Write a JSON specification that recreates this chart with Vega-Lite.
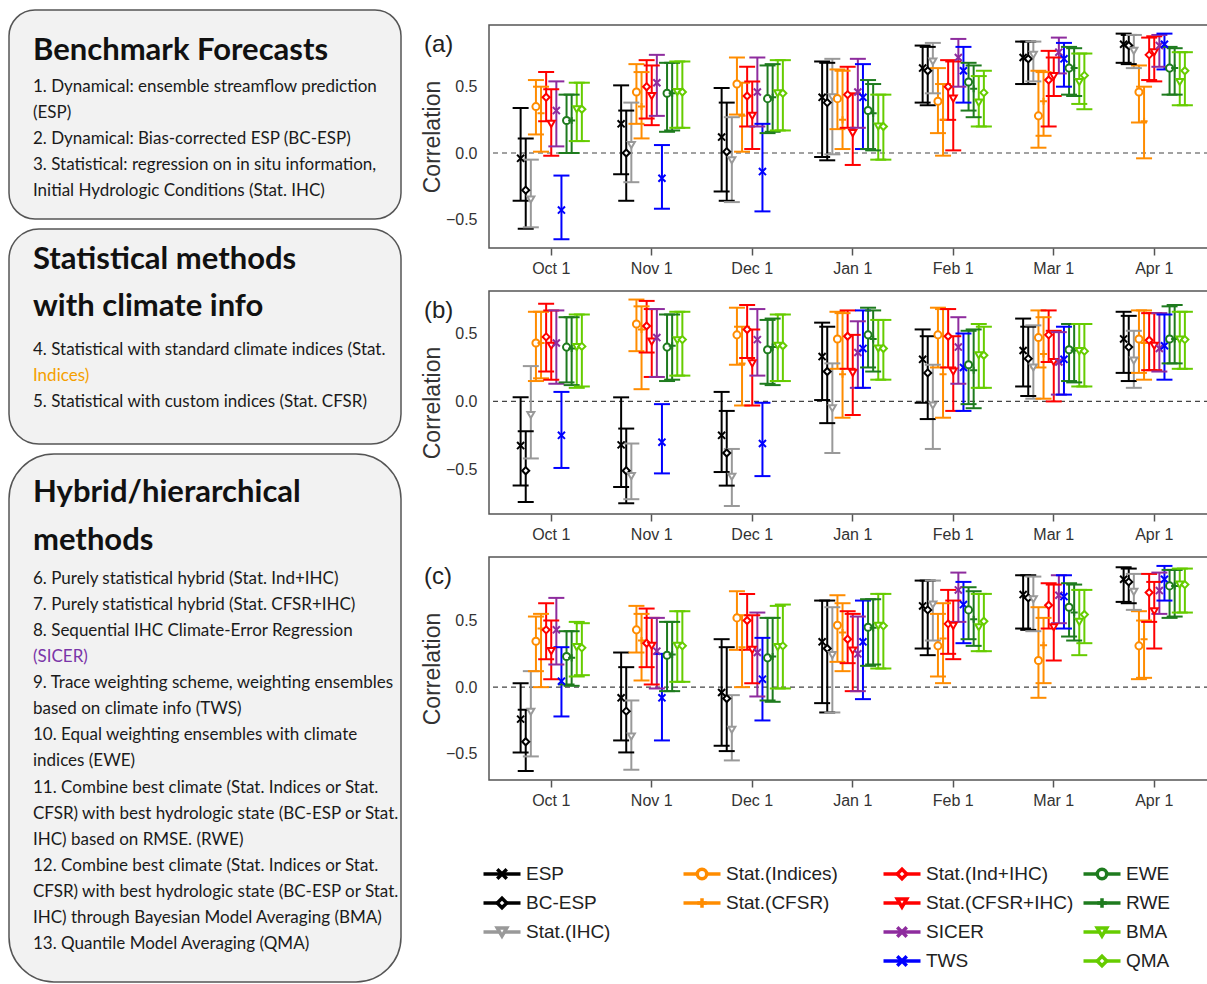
{
"$schema": "https://vega.github.io/schema/vega-lite/v6.json",
"padding": {"left": 8, "top": 9, "right": 0, "bottom": 0},
"background": "white",
"spacing": 18,
"resolve": {"scale": {"color": "independent"}},
"config": {
  "font": "Liberation Sans",
  "view": {"stroke": "#555", "strokeWidth": 1.5},
  "axis": {"grid": false, "domain": false, "labelFont": "Liberation Sans", "labelColor": "#333", "titleColor": "#333", "titleFont": "Liberation Sans", "titleFontWeight": "normal"},
  "axisX": {"labelFontSize": 16, "tickSize": 7, "tickColor": "#555", "tickWidth": 1.5, "labelPadding": 5, "labelAngle": 0},
  "axisY": {"labelFontSize": 16, "ticks": false, "tickSize": 0, "labelPadding": 12, "titleFontSize": 23, "titlePadding": 1},
  "title": {"font": "Liberation Sans", "fontWeight": "normal", "color": "#222"}
},
"datasets": {
"fc": [
{"panel":"a","month":"Oct 1","method":"ESP","r":-0.04,"lo":-0.36,"hi":0.34},
{"panel":"a","month":"Oct 1","method":"BC-ESP","r":-0.28,"lo":-0.57,"hi":0.11},
{"panel":"a","month":"Oct 1","method":"Stat.(IHC)","r":-0.35,"lo":-0.56,"hi":-0.05},
{"panel":"a","month":"Oct 1","method":"Stat.(Indices)","r":0.35,"lo":0.14,"hi":0.55},
{"panel":"a","month":"Oct 1","method":"Stat.(CFSR)","r":0.30,"lo":0.01,"hi":0.50},
{"panel":"a","month":"Oct 1","method":"Stat.(Ind+IHC)","r":0.42,"lo":0.24,"hi":0.61},
{"panel":"a","month":"Oct 1","method":"Stat.(CFSR+IHC)","r":0.22,"lo":-0.02,"hi":0.48},
{"panel":"a","month":"Oct 1","method":"SICER","r":0.32,"lo":0.05,"hi":0.54},
{"panel":"a","month":"Oct 1","method":"TWS","r":-0.43,"lo":-0.65,"hi":-0.17},
{"panel":"a","month":"Oct 1","method":"EWE","r":0.245,"lo":0.0,"hi":0.44},
{"panel":"a","month":"Oct 1","method":"RWE","r":0.245,"lo":0.0,"hi":0.44},
{"panel":"a","month":"Oct 1","method":"BMA","r":0.33,"lo":0.09,"hi":0.53},
{"panel":"a","month":"Oct 1","method":"QMA","r":0.33,"lo":0.09,"hi":0.53},
{"panel":"a","month":"Nov 1","method":"ESP","r":0.22,"lo":-0.16,"hi":0.51},
{"panel":"a","month":"Nov 1","method":"BC-ESP","r":0.0,"lo":-0.36,"hi":0.32},
{"panel":"a","month":"Nov 1","method":"Stat.(IHC)","r":0.06,"lo":-0.22,"hi":0.38},
{"panel":"a","month":"Nov 1","method":"Stat.(Indices)","r":0.46,"lo":0.22,"hi":0.67},
{"panel":"a","month":"Nov 1","method":"Stat.(CFSR)","r":0.35,"lo":0.11,"hi":0.61},
{"panel":"a","month":"Nov 1","method":"Stat.(Ind+IHC)","r":0.50,"lo":0.26,"hi":0.70},
{"panel":"a","month":"Nov 1","method":"Stat.(CFSR+IHC)","r":0.43,"lo":0.21,"hi":0.66},
{"panel":"a","month":"Nov 1","method":"SICER","r":0.53,"lo":0.28,"hi":0.74},
{"panel":"a","month":"Nov 1","method":"TWS","r":-0.19,"lo":-0.42,"hi":0.06},
{"panel":"a","month":"Nov 1","method":"EWE","r":0.45,"lo":0.16,"hi":0.68},
{"panel":"a","month":"Nov 1","method":"RWE","r":0.45,"lo":0.17,"hi":0.68},
{"panel":"a","month":"Nov 1","method":"BMA","r":0.46,"lo":0.19,"hi":0.69},
{"panel":"a","month":"Nov 1","method":"QMA","r":0.46,"lo":0.19,"hi":0.69},
{"panel":"a","month":"Dec 1","method":"ESP","r":0.12,"lo":-0.29,"hi":0.49},
{"panel":"a","month":"Dec 1","method":"BC-ESP","r":0.01,"lo":-0.36,"hi":0.38},
{"panel":"a","month":"Dec 1","method":"Stat.(IHC)","r":-0.055,"lo":-0.37,"hi":0.27},
{"panel":"a","month":"Dec 1","method":"Stat.(Indices)","r":0.52,"lo":0.29,"hi":0.72},
{"panel":"a","month":"Dec 1","method":"Stat.(CFSR)","r":0.28,"lo":0.01,"hi":0.53},
{"panel":"a","month":"Dec 1","method":"Stat.(Ind+IHC)","r":0.43,"lo":0.20,"hi":0.65},
{"panel":"a","month":"Dec 1","method":"Stat.(CFSR+IHC)","r":0.28,"lo":0.03,"hi":0.54},
{"panel":"a","month":"Dec 1","method":"SICER","r":0.46,"lo":0.20,"hi":0.72},
{"panel":"a","month":"Dec 1","method":"TWS","r":-0.14,"lo":-0.44,"hi":0.22},
{"panel":"a","month":"Dec 1","method":"EWE","r":0.41,"lo":0.15,"hi":0.66},
{"panel":"a","month":"Dec 1","method":"RWE","r":0.42,"lo":0.16,"hi":0.67},
{"panel":"a","month":"Dec 1","method":"BMA","r":0.45,"lo":0.17,"hi":0.70},
{"panel":"a","month":"Dec 1","method":"QMA","r":0.45,"lo":0.17,"hi":0.70},
{"panel":"a","month":"Jan 1","method":"ESP","r":0.42,"lo":-0.03,"hi":0.69},
{"panel":"a","month":"Jan 1","method":"BC-ESP","r":0.38,"lo":-0.055,"hi":0.68},
{"panel":"a","month":"Jan 1","method":"Stat.(IHC)","r":0.42,"lo":-0.01,"hi":0.71},
{"panel":"a","month":"Jan 1","method":"Stat.(Indices)","r":0.41,"lo":0.18,"hi":0.63},
{"panel":"a","month":"Jan 1","method":"Stat.(CFSR)","r":0.25,"lo":0.03,"hi":0.62},
{"panel":"a","month":"Jan 1","method":"Stat.(Ind+IHC)","r":0.44,"lo":0.19,"hi":0.65},
{"panel":"a","month":"Jan 1","method":"Stat.(CFSR+IHC)","r":0.15,"lo":-0.09,"hi":0.45},
{"panel":"a","month":"Jan 1","method":"SICER","r":0.46,"lo":0.19,"hi":0.71},
{"panel":"a","month":"Jan 1","method":"TWS","r":0.42,"lo":0.03,"hi":0.67},
{"panel":"a","month":"Jan 1","method":"EWE","r":0.32,"lo":0.03,"hi":0.55},
{"panel":"a","month":"Jan 1","method":"RWE","r":0.30,"lo":0.02,"hi":0.52},
{"panel":"a","month":"Jan 1","method":"BMA","r":0.20,"lo":-0.05,"hi":0.44},
{"panel":"a","month":"Jan 1","method":"QMA","r":0.20,"lo":-0.05,"hi":0.44},
{"panel":"a","month":"Feb 1","method":"ESP","r":0.64,"lo":0.38,"hi":0.81},
{"panel":"a","month":"Feb 1","method":"BC-ESP","r":0.62,"lo":0.36,"hi":0.80},
{"panel":"a","month":"Feb 1","method":"Stat.(IHC)","r":0.69,"lo":0.45,"hi":0.83},
{"panel":"a","month":"Feb 1","method":"Stat.(Indices)","r":0.39,"lo":0.15,"hi":0.64},
{"panel":"a","month":"Feb 1","method":"Stat.(CFSR)","r":0.25,"lo":-0.02,"hi":0.52},
{"panel":"a","month":"Feb 1","method":"Stat.(Ind+IHC)","r":0.50,"lo":0.25,"hi":0.70},
{"panel":"a","month":"Feb 1","method":"Stat.(CFSR+IHC)","r":0.41,"lo":0.02,"hi":0.69},
{"panel":"a","month":"Feb 1","method":"SICER","r":0.72,"lo":0.50,"hi":0.86},
{"panel":"a","month":"Feb 1","method":"TWS","r":0.62,"lo":0.38,"hi":0.80},
{"panel":"a","month":"Feb 1","method":"EWE","r":0.535,"lo":0.32,"hi":0.68},
{"panel":"a","month":"Feb 1","method":"RWE","r":0.485,"lo":0.27,"hi":0.66},
{"panel":"a","month":"Feb 1","method":"BMA","r":0.38,"lo":0.20,"hi":0.58},
{"panel":"a","month":"Feb 1","method":"QMA","r":0.455,"lo":0.20,"hi":0.62},
{"panel":"a","month":"Mar 1","method":"ESP","r":0.72,"lo":0.52,"hi":0.84},
{"panel":"a","month":"Mar 1","method":"BC-ESP","r":0.71,"lo":0.52,"hi":0.84},
{"panel":"a","month":"Mar 1","method":"Stat.(IHC)","r":0.74,"lo":0.54,"hi":0.84},
{"panel":"a","month":"Mar 1","method":"Stat.(Indices)","r":0.28,"lo":0.04,"hi":0.62},
{"panel":"a","month":"Mar 1","method":"Stat.(CFSR)","r":0.39,"lo":0.13,"hi":0.61},
{"panel":"a","month":"Mar 1","method":"Stat.(Ind+IHC)","r":0.55,"lo":0.20,"hi":0.77},
{"panel":"a","month":"Mar 1","method":"Stat.(CFSR+IHC)","r":0.58,"lo":0.43,"hi":0.72},
{"panel":"a","month":"Mar 1","method":"SICER","r":0.76,"lo":0.60,"hi":0.87},
{"panel":"a","month":"Mar 1","method":"TWS","r":0.71,"lo":0.50,"hi":0.83},
{"panel":"a","month":"Mar 1","method":"EWE","r":0.64,"lo":0.44,"hi":0.80},
{"panel":"a","month":"Mar 1","method":"RWE","r":0.64,"lo":0.43,"hi":0.79},
{"panel":"a","month":"Mar 1","method":"BMA","r":0.535,"lo":0.37,"hi":0.75},
{"panel":"a","month":"Mar 1","method":"QMA","r":0.585,"lo":0.33,"hi":0.75},
{"panel":"a","month":"Apr 1","method":"ESP","r":0.82,"lo":0.68,"hi":0.90},
{"panel":"a","month":"Apr 1","method":"BC-ESP","r":0.81,"lo":0.67,"hi":0.89},
{"panel":"a","month":"Apr 1","method":"Stat.(IHC)","r":0.77,"lo":0.64,"hi":0.89},
{"panel":"a","month":"Apr 1","method":"Stat.(Indices)","r":0.46,"lo":0.23,"hi":0.66},
{"panel":"a","month":"Apr 1","method":"Stat.(CFSR)","r":0.24,"lo":-0.04,"hi":0.50},
{"panel":"a","month":"Apr 1","method":"Stat.(Ind+IHC)","r":0.74,"lo":0.55,"hi":0.87},
{"panel":"a","month":"Apr 1","method":"Stat.(CFSR+IHC)","r":0.76,"lo":0.54,"hi":0.88},
{"panel":"a","month":"Apr 1","method":"SICER","r":0.81,"lo":0.65,"hi":0.89},
{"panel":"a","month":"Apr 1","method":"TWS","r":0.82,"lo":0.63,"hi":0.90},
{"panel":"a","month":"Apr 1","method":"EWE","r":0.64,"lo":0.44,"hi":0.80},
{"panel":"a","month":"Apr 1","method":"RWE","r":0.64,"lo":0.44,"hi":0.79},
{"panel":"a","month":"Apr 1","method":"BMA","r":0.535,"lo":0.36,"hi":0.76},
{"panel":"a","month":"Apr 1","method":"QMA","r":0.62,"lo":0.36,"hi":0.76},
{"panel":"b","month":"Oct 1","method":"ESP","r":-0.325,"lo":-0.62,"hi":0.03},
{"panel":"b","month":"Oct 1","method":"BC-ESP","r":-0.51,"lo":-0.74,"hi":-0.22},
{"panel":"b","month":"Oct 1","method":"Stat.(IHC)","r":-0.10,"lo":-0.42,"hi":0.26},
{"panel":"b","month":"Oct 1","method":"Stat.(Indices)","r":0.43,"lo":0.15,"hi":0.66},
{"panel":"b","month":"Oct 1","method":"Stat.(CFSR)","r":0.43,"lo":0.17,"hi":0.66},
{"panel":"b","month":"Oct 1","method":"Stat.(Ind+IHC)","r":0.475,"lo":0.22,"hi":0.72},
{"panel":"b","month":"Oct 1","method":"Stat.(CFSR+IHC)","r":0.41,"lo":0.16,"hi":0.67},
{"panel":"b","month":"Oct 1","method":"SICER","r":0.43,"lo":0.13,"hi":0.67},
{"panel":"b","month":"Oct 1","method":"TWS","r":-0.25,"lo":-0.49,"hi":0.07},
{"panel":"b","month":"Oct 1","method":"EWE","r":0.40,"lo":0.14,"hi":0.62},
{"panel":"b","month":"Oct 1","method":"RWE","r":0.39,"lo":0.12,"hi":0.62},
{"panel":"b","month":"Oct 1","method":"BMA","r":0.40,"lo":0.10,"hi":0.64},
{"panel":"b","month":"Oct 1","method":"QMA","r":0.405,"lo":0.11,"hi":0.64},
{"panel":"b","month":"Nov 1","method":"ESP","r":-0.32,"lo":-0.63,"hi":0.03},
{"panel":"b","month":"Nov 1","method":"BC-ESP","r":-0.51,"lo":-0.75,"hi":-0.20},
{"panel":"b","month":"Nov 1","method":"Stat.(IHC)","r":-0.55,"lo":-0.72,"hi":-0.31},
{"panel":"b","month":"Nov 1","method":"Stat.(Indices)","r":0.57,"lo":0.37,"hi":0.75},
{"panel":"b","month":"Nov 1","method":"Stat.(CFSR)","r":0.53,"lo":0.09,"hi":0.70},
{"panel":"b","month":"Nov 1","method":"Stat.(Ind+IHC)","r":0.555,"lo":0.36,"hi":0.74},
{"panel":"b","month":"Nov 1","method":"Stat.(CFSR+IHC)","r":0.44,"lo":0.18,"hi":0.68},
{"panel":"b","month":"Nov 1","method":"SICER","r":0.47,"lo":0.18,"hi":0.68},
{"panel":"b","month":"Nov 1","method":"TWS","r":-0.30,"lo":-0.53,"hi":-0.02},
{"panel":"b","month":"Nov 1","method":"EWE","r":0.40,"lo":0.15,"hi":0.64},
{"panel":"b","month":"Nov 1","method":"RWE","r":0.41,"lo":0.16,"hi":0.64},
{"panel":"b","month":"Nov 1","method":"BMA","r":0.45,"lo":0.19,"hi":0.66},
{"panel":"b","month":"Nov 1","method":"QMA","r":0.455,"lo":0.19,"hi":0.66},
{"panel":"b","month":"Dec 1","method":"ESP","r":-0.25,"lo":-0.52,"hi":0.07},
{"panel":"b","month":"Dec 1","method":"BC-ESP","r":-0.38,"lo":-0.62,"hi":-0.07},
{"panel":"b","month":"Dec 1","method":"Stat.(IHC)","r":-0.555,"lo":-0.77,"hi":-0.35},
{"panel":"b","month":"Dec 1","method":"Stat.(Indices)","r":0.49,"lo":0.27,"hi":0.69},
{"panel":"b","month":"Dec 1","method":"Stat.(CFSR)","r":0.28,"lo":-0.03,"hi":0.55},
{"panel":"b","month":"Dec 1","method":"Stat.(Ind+IHC)","r":0.53,"lo":0.32,"hi":0.71},
{"panel":"b","month":"Dec 1","method":"Stat.(CFSR+IHC)","r":0.28,"lo":-0.03,"hi":0.53},
{"panel":"b","month":"Dec 1","method":"SICER","r":0.455,"lo":0.19,"hi":0.68},
{"panel":"b","month":"Dec 1","method":"TWS","r":-0.31,"lo":-0.55,"hi":-0.01},
{"panel":"b","month":"Dec 1","method":"EWE","r":0.38,"lo":0.13,"hi":0.60},
{"panel":"b","month":"Dec 1","method":"RWE","r":0.40,"lo":0.12,"hi":0.61},
{"panel":"b","month":"Dec 1","method":"BMA","r":0.41,"lo":0.15,"hi":0.64},
{"panel":"b","month":"Dec 1","method":"QMA","r":0.41,"lo":0.15,"hi":0.64},
{"panel":"b","month":"Jan 1","method":"ESP","r":0.33,"lo":0.01,"hi":0.58},
{"panel":"b","month":"Jan 1","method":"BC-ESP","r":0.22,"lo":-0.16,"hi":0.55},
{"panel":"b","month":"Jan 1","method":"Stat.(IHC)","r":-0.05,"lo":-0.38,"hi":0.28},
{"panel":"b","month":"Jan 1","method":"Stat.(Indices)","r":0.46,"lo":0.24,"hi":0.66},
{"panel":"b","month":"Jan 1","method":"Stat.(CFSR)","r":0.20,"lo":-0.12,"hi":0.65},
{"panel":"b","month":"Jan 1","method":"Stat.(Ind+IHC)","r":0.48,"lo":0.24,"hi":0.67},
{"panel":"b","month":"Jan 1","method":"Stat.(CFSR+IHC)","r":0.21,"lo":-0.10,"hi":0.49},
{"panel":"b","month":"Jan 1","method":"SICER","r":0.36,"lo":0.10,"hi":0.59},
{"panel":"b","month":"Jan 1","method":"TWS","r":0.39,"lo":0.10,"hi":0.67},
{"panel":"b","month":"Jan 1","method":"EWE","r":0.49,"lo":0.25,"hi":0.69},
{"panel":"b","month":"Jan 1","method":"RWE","r":0.46,"lo":0.22,"hi":0.67},
{"panel":"b","month":"Jan 1","method":"BMA","r":0.39,"lo":0.16,"hi":0.60},
{"panel":"b","month":"Jan 1","method":"QMA","r":0.39,"lo":0.16,"hi":0.60},
{"panel":"b","month":"Feb 1","method":"ESP","r":0.31,"lo":-0.01,"hi":0.53},
{"panel":"b","month":"Feb 1","method":"BC-ESP","r":0.21,"lo":-0.13,"hi":0.48},
{"panel":"b","month":"Feb 1","method":"Stat.(IHC)","r":-0.03,"lo":-0.35,"hi":0.27},
{"panel":"b","month":"Feb 1","method":"Stat.(Indices)","r":0.49,"lo":0.25,"hi":0.69},
{"panel":"b","month":"Feb 1","method":"Stat.(CFSR)","r":0.20,"lo":-0.12,"hi":0.68},
{"panel":"b","month":"Feb 1","method":"Stat.(Ind+IHC)","r":0.48,"lo":0.25,"hi":0.68},
{"panel":"b","month":"Feb 1","method":"Stat.(CFSR+IHC)","r":0.22,"lo":-0.07,"hi":0.48},
{"panel":"b","month":"Feb 1","method":"SICER","r":0.40,"lo":0.13,"hi":0.62},
{"panel":"b","month":"Feb 1","method":"TWS","r":0.25,"lo":-0.07,"hi":0.50},
{"panel":"b","month":"Feb 1","method":"EWE","r":0.27,"lo":-0.02,"hi":0.52},
{"panel":"b","month":"Feb 1","method":"RWE","r":0.23,"lo":-0.05,"hi":0.53},
{"panel":"b","month":"Feb 1","method":"BMA","r":0.34,"lo":0.10,"hi":0.57},
{"panel":"b","month":"Feb 1","method":"QMA","r":0.34,"lo":0.10,"hi":0.55},
{"panel":"b","month":"Mar 1","method":"ESP","r":0.375,"lo":0.11,"hi":0.61},
{"panel":"b","month":"Mar 1","method":"BC-ESP","r":0.315,"lo":0.04,"hi":0.55},
{"panel":"b","month":"Mar 1","method":"Stat.(IHC)","r":0.25,"lo":0.02,"hi":0.56},
{"panel":"b","month":"Mar 1","method":"Stat.(Indices)","r":0.47,"lo":0.25,"hi":0.67},
{"panel":"b","month":"Mar 1","method":"Stat.(CFSR)","r":0.35,"lo":0.02,"hi":0.62},
{"panel":"b","month":"Mar 1","method":"Stat.(Ind+IHC)","r":0.49,"lo":0.29,"hi":0.67},
{"panel":"b","month":"Mar 1","method":"Stat.(CFSR+IHC)","r":0.29,"lo":0.0,"hi":0.52},
{"panel":"b","month":"Mar 1","method":"SICER","r":0.29,"lo":0.05,"hi":0.51},
{"panel":"b","month":"Mar 1","method":"TWS","r":0.31,"lo":0.05,"hi":0.55},
{"panel":"b","month":"Mar 1","method":"EWE","r":0.38,"lo":0.15,"hi":0.57},
{"panel":"b","month":"Mar 1","method":"RWE","r":0.375,"lo":0.14,"hi":0.57},
{"panel":"b","month":"Mar 1","method":"BMA","r":0.37,"lo":0.11,"hi":0.57},
{"panel":"b","month":"Mar 1","method":"QMA","r":0.37,"lo":0.11,"hi":0.57},
{"panel":"b","month":"Apr 1","method":"ESP","r":0.46,"lo":0.21,"hi":0.66},
{"panel":"b","month":"Apr 1","method":"BC-ESP","r":0.40,"lo":0.15,"hi":0.63},
{"panel":"b","month":"Apr 1","method":"Stat.(IHC)","r":0.30,"lo":0.10,"hi":0.52},
{"panel":"b","month":"Apr 1","method":"Stat.(Indices)","r":0.46,"lo":0.21,"hi":0.67},
{"panel":"b","month":"Apr 1","method":"Stat.(CFSR)","r":0.43,"lo":0.16,"hi":0.67},
{"panel":"b","month":"Apr 1","method":"Stat.(Ind+IHC)","r":0.45,"lo":0.23,"hi":0.65},
{"panel":"b","month":"Apr 1","method":"Stat.(CFSR+IHC)","r":0.41,"lo":0.23,"hi":0.65},
{"panel":"b","month":"Apr 1","method":"SICER","r":0.39,"lo":0.22,"hi":0.65},
{"panel":"b","month":"Apr 1","method":"TWS","r":0.41,"lo":0.16,"hi":0.64},
{"panel":"b","month":"Apr 1","method":"EWE","r":0.46,"lo":0.28,"hi":0.70},
{"panel":"b","month":"Apr 1","method":"RWE","r":0.46,"lo":0.28,"hi":0.71},
{"panel":"b","month":"Apr 1","method":"BMA","r":0.455,"lo":0.24,"hi":0.66},
{"panel":"b","month":"Apr 1","method":"QMA","r":0.455,"lo":0.24,"hi":0.66},
{"panel":"c","month":"Oct 1","method":"ESP","r":-0.24,"lo":-0.49,"hi":0.03},
{"panel":"c","month":"Oct 1","method":"BC-ESP","r":-0.41,"lo":-0.63,"hi":-0.17},
{"panel":"c","month":"Oct 1","method":"Stat.(IHC)","r":-0.185,"lo":-0.52,"hi":0.12},
{"panel":"c","month":"Oct 1","method":"Stat.(Indices)","r":0.345,"lo":0.12,"hi":0.53},
{"panel":"c","month":"Oct 1","method":"Stat.(CFSR)","r":0.44,"lo":0.0,"hi":0.55},
{"panel":"c","month":"Oct 1","method":"Stat.(Ind+IHC)","r":0.43,"lo":0.21,"hi":0.63},
{"panel":"c","month":"Oct 1","method":"Stat.(CFSR+IHC)","r":0.27,"lo":0.06,"hi":0.50},
{"panel":"c","month":"Oct 1","method":"SICER","r":0.43,"lo":0.17,"hi":0.67},
{"panel":"c","month":"Oct 1","method":"TWS","r":0.045,"lo":-0.22,"hi":0.30},
{"panel":"c","month":"Oct 1","method":"EWE","r":0.23,"lo":0.02,"hi":0.42},
{"panel":"c","month":"Oct 1","method":"RWE","r":0.22,"lo":0.01,"hi":0.42},
{"panel":"c","month":"Oct 1","method":"BMA","r":0.30,"lo":0.08,"hi":0.49},
{"panel":"c","month":"Oct 1","method":"QMA","r":0.295,"lo":0.09,"hi":0.48},
{"panel":"c","month":"Nov 1","method":"ESP","r":-0.08,"lo":-0.40,"hi":0.26},
{"panel":"c","month":"Nov 1","method":"BC-ESP","r":-0.18,"lo":-0.49,"hi":0.15},
{"panel":"c","month":"Nov 1","method":"Stat.(IHC)","r":-0.37,"lo":-0.62,"hi":-0.10},
{"panel":"c","month":"Nov 1","method":"Stat.(Indices)","r":0.43,"lo":0.26,"hi":0.61},
{"panel":"c","month":"Nov 1","method":"Stat.(CFSR)","r":0.35,"lo":0.05,"hi":0.55},
{"panel":"c","month":"Nov 1","method":"Stat.(Ind+IHC)","r":0.33,"lo":0.15,"hi":0.59},
{"panel":"c","month":"Nov 1","method":"Stat.(CFSR+IHC)","r":0.31,"lo":0.02,"hi":0.52},
{"panel":"c","month":"Nov 1","method":"SICER","r":0.27,"lo":-0.01,"hi":0.52},
{"panel":"c","month":"Nov 1","method":"TWS","r":-0.08,"lo":-0.40,"hi":0.25},
{"panel":"c","month":"Nov 1","method":"EWE","r":0.24,"lo":-0.03,"hi":0.49},
{"panel":"c","month":"Nov 1","method":"RWE","r":0.245,"lo":-0.03,"hi":0.49},
{"panel":"c","month":"Nov 1","method":"BMA","r":0.31,"lo":0.04,"hi":0.57},
{"panel":"c","month":"Nov 1","method":"QMA","r":0.31,"lo":0.04,"hi":0.57},
{"panel":"c","month":"Dec 1","method":"ESP","r":-0.04,"lo":-0.44,"hi":0.36},
{"panel":"c","month":"Dec 1","method":"BC-ESP","r":-0.085,"lo":-0.48,"hi":0.30},
{"panel":"c","month":"Dec 1","method":"Stat.(IHC)","r":-0.32,"lo":-0.55,"hi":-0.06},
{"panel":"c","month":"Dec 1","method":"Stat.(Indices)","r":0.52,"lo":0.28,"hi":0.72},
{"panel":"c","month":"Dec 1","method":"Stat.(CFSR)","r":0.30,"lo":0.0,"hi":0.54},
{"panel":"c","month":"Dec 1","method":"Stat.(Ind+IHC)","r":0.50,"lo":0.28,"hi":0.70},
{"panel":"c","month":"Dec 1","method":"Stat.(CFSR+IHC)","r":0.28,"lo":0.03,"hi":0.54},
{"panel":"c","month":"Dec 1","method":"SICER","r":0.26,"lo":-0.07,"hi":0.56},
{"panel":"c","month":"Dec 1","method":"TWS","r":0.06,"lo":-0.25,"hi":0.37},
{"panel":"c","month":"Dec 1","method":"EWE","r":0.22,"lo":-0.10,"hi":0.52},
{"panel":"c","month":"Dec 1","method":"RWE","r":0.23,"lo":-0.11,"hi":0.52},
{"panel":"c","month":"Dec 1","method":"BMA","r":0.30,"lo":-0.01,"hi":0.61},
{"panel":"c","month":"Dec 1","method":"QMA","r":0.31,"lo":-0.01,"hi":0.62},
{"panel":"c","month":"Jan 1","method":"ESP","r":0.34,"lo":-0.12,"hi":0.65},
{"panel":"c","month":"Jan 1","method":"BC-ESP","r":0.29,"lo":-0.19,"hi":0.65},
{"panel":"c","month":"Jan 1","method":"Stat.(IHC)","r":0.24,"lo":-0.19,"hi":0.60},
{"panel":"c","month":"Jan 1","method":"Stat.(Indices)","r":0.465,"lo":0.19,"hi":0.69},
{"panel":"c","month":"Jan 1","method":"Stat.(CFSR)","r":0.41,"lo":0.12,"hi":0.63},
{"panel":"c","month":"Jan 1","method":"Stat.(Ind+IHC)","r":0.36,"lo":0.18,"hi":0.57},
{"panel":"c","month":"Jan 1","method":"Stat.(CFSR+IHC)","r":0.275,"lo":-0.03,"hi":0.55},
{"panel":"c","month":"Jan 1","method":"SICER","r":0.25,"lo":-0.03,"hi":0.53},
{"panel":"c","month":"Jan 1","method":"TWS","r":0.34,"lo":-0.09,"hi":0.65},
{"panel":"c","month":"Jan 1","method":"EWE","r":0.45,"lo":0.16,"hi":0.66},
{"panel":"c","month":"Jan 1","method":"RWE","r":0.445,"lo":0.17,"hi":0.66},
{"panel":"c","month":"Jan 1","method":"BMA","r":0.46,"lo":0.14,"hi":0.70},
{"panel":"c","month":"Jan 1","method":"QMA","r":0.46,"lo":0.14,"hi":0.70},
{"panel":"c","month":"Feb 1","method":"ESP","r":0.61,"lo":0.29,"hi":0.80},
{"panel":"c","month":"Feb 1","method":"BC-ESP","r":0.58,"lo":0.24,"hi":0.80},
{"panel":"c","month":"Feb 1","method":"Stat.(IHC)","r":0.62,"lo":0.35,"hi":0.80},
{"panel":"c","month":"Feb 1","method":"Stat.(Indices)","r":0.31,"lo":0.08,"hi":0.55},
{"panel":"c","month":"Feb 1","method":"Stat.(CFSR)","r":0.365,"lo":0.03,"hi":0.63},
{"panel":"c","month":"Feb 1","method":"Stat.(Ind+IHC)","r":0.475,"lo":0.25,"hi":0.73},
{"panel":"c","month":"Feb 1","method":"Stat.(CFSR+IHC)","r":0.46,"lo":0.21,"hi":0.65},
{"panel":"c","month":"Feb 1","method":"SICER","r":0.73,"lo":0.49,"hi":0.86},
{"panel":"c","month":"Feb 1","method":"TWS","r":0.62,"lo":0.33,"hi":0.79},
{"panel":"c","month":"Feb 1","method":"EWE","r":0.58,"lo":0.36,"hi":0.75},
{"panel":"c","month":"Feb 1","method":"RWE","r":0.51,"lo":0.31,"hi":0.72},
{"panel":"c","month":"Feb 1","method":"BMA","r":0.45,"lo":0.27,"hi":0.70},
{"panel":"c","month":"Feb 1","method":"QMA","r":0.495,"lo":0.27,"hi":0.70},
{"panel":"c","month":"Mar 1","method":"ESP","r":0.695,"lo":0.44,"hi":0.84},
{"panel":"c","month":"Mar 1","method":"BC-ESP","r":0.67,"lo":0.43,"hi":0.84},
{"panel":"c","month":"Mar 1","method":"Stat.(IHC)","r":0.66,"lo":0.42,"hi":0.83},
{"panel":"c","month":"Mar 1","method":"Stat.(Indices)","r":0.20,"lo":-0.08,"hi":0.60},
{"panel":"c","month":"Mar 1","method":"Stat.(CFSR)","r":0.315,"lo":0.03,"hi":0.52},
{"panel":"c","month":"Mar 1","method":"Stat.(Ind+IHC)","r":0.615,"lo":0.44,"hi":0.78},
{"panel":"c","month":"Mar 1","method":"Stat.(CFSR+IHC)","r":0.45,"lo":0.20,"hi":0.77},
{"panel":"c","month":"Mar 1","method":"SICER","r":0.69,"lo":0.48,"hi":0.84},
{"panel":"c","month":"Mar 1","method":"TWS","r":0.68,"lo":0.44,"hi":0.84},
{"panel":"c","month":"Mar 1","method":"EWE","r":0.60,"lo":0.38,"hi":0.78},
{"panel":"c","month":"Mar 1","method":"RWE","r":0.56,"lo":0.35,"hi":0.77},
{"panel":"c","month":"Mar 1","method":"BMA","r":0.49,"lo":0.24,"hi":0.73},
{"panel":"c","month":"Mar 1","method":"QMA","r":0.545,"lo":0.33,"hi":0.73},
{"panel":"c","month":"Apr 1","method":"ESP","r":0.81,"lo":0.64,"hi":0.90},
{"panel":"c","month":"Apr 1","method":"BC-ESP","r":0.79,"lo":0.63,"hi":0.89},
{"panel":"c","month":"Apr 1","method":"Stat.(IHC)","r":0.715,"lo":0.58,"hi":0.85},
{"panel":"c","month":"Apr 1","method":"Stat.(Indices)","r":0.31,"lo":0.06,"hi":0.57},
{"panel":"c","month":"Apr 1","method":"Stat.(CFSR)","r":0.36,"lo":0.07,"hi":0.50},
{"panel":"c","month":"Apr 1","method":"Stat.(Ind+IHC)","r":0.71,"lo":0.49,"hi":0.85},
{"panel":"c","month":"Apr 1","method":"Stat.(CFSR+IHC)","r":0.57,"lo":0.29,"hi":0.79},
{"panel":"c","month":"Apr 1","method":"SICER","r":0.725,"lo":0.55,"hi":0.86},
{"panel":"c","month":"Apr 1","method":"TWS","r":0.81,"lo":0.65,"hi":0.91},
{"panel":"c","month":"Apr 1","method":"EWE","r":0.76,"lo":0.52,"hi":0.88},
{"panel":"c","month":"Apr 1","method":"RWE","r":0.76,"lo":0.53,"hi":0.88},
{"panel":"c","month":"Apr 1","method":"BMA","r":0.77,"lo":0.56,"hi":0.89},
{"panel":"c","month":"Apr 1","method":"QMA","r":0.77,"lo":0.56,"hi":0.89}
],
"leg": [
{"method":"ESP","family":"benchmark","rank":1},
{"method":"BC-ESP","family":"benchmark","rank":2},
{"method":"Stat.(IHC)","family":"benchmark","rank":3},
{"method":"Stat.(Indices)","family":"climate","rank":1},
{"method":"Stat.(CFSR)","family":"climate","rank":2},
{"method":"Stat.(Ind+IHC)","family":"hybrid","rank":1},
{"method":"Stat.(CFSR+IHC)","family":"hybrid","rank":2},
{"method":"SICER","family":"hybrid","rank":3},
{"method":"TWS","family":"hybrid","rank":4},
{"method":"EWE","family":"weighting","rank":1},
{"method":"RWE","family":"weighting","rank":2},
{"method":"BMA","family":"weighting","rank":3},
{"method":"QMA","family":"weighting","rank":4}
],
"boxtitle": [
{"box":1,"tline":1,"text":"Benchmark Forecasts"},
{"box":2,"tline":1,"text":"Statistical methods"},
{"box":2,"tline":2,"text":"with climate info"},
{"box":3,"tline":1,"text":"Hybrid/hierarchical"},
{"box":3,"tline":2,"text":"methods"}
],
"boxtext": [
{"box":1,"line":1,"hue":"plain","text":"1. Dynamical: ensemble streamflow prediction"},
{"box":1,"line":2,"hue":"plain","text":"(ESP)"},
{"box":1,"line":3,"hue":"plain","text":"2. Dynamical: Bias-corrected ESP (BC-ESP)"},
{"box":1,"line":4,"hue":"plain","text":"3. Statistical: regression on in situ information,"},
{"box":1,"line":5,"hue":"plain","text":" Initial Hydrologic Conditions (Stat. IHC)"},
{"box":2,"line":1,"hue":"plain","text":"4. Statistical with standard climate indices (Stat."},
{"box":2,"line":2,"hue":"orange","text":"Indices)"},
{"box":2,"line":3,"hue":"plain","text":"5. Statistical with custom indices (Stat. CFSR)"},
{"box":3,"line":1,"hue":"plain","text":"6. Purely statistical hybrid (Stat. Ind+IHC)"},
{"box":3,"line":2,"hue":"plain","text":"7. Purely statistical hybrid (Stat. CFSR+IHC)"},
{"box":3,"line":3,"hue":"plain","text":"8. Sequential IHC Climate-Error Regression"},
{"box":3,"line":4,"hue":"purple","text":"(SICER)"},
{"box":3,"line":5,"hue":"plain","text":"9. Trace weighting scheme, weighting ensembles"},
{"box":3,"line":6,"hue":"plain","text":"based on climate info (TWS)"},
{"box":3,"line":7,"hue":"plain","text":"10. Equal weighting ensembles with climate"},
{"box":3,"line":8,"hue":"plain","text":"indices (EWE)"},
{"box":3,"line":9,"hue":"plain","text":"11. Combine best climate (Stat. Indices or Stat."},
{"box":3,"line":10,"hue":"plain","text":"CFSR) with best hydrologic state (BC-ESP or Stat."},
{"box":3,"line":11,"hue":"plain","text":"IHC) based on RMSE. (RWE)"},
{"box":3,"line":12,"hue":"plain","text":"12. Combine best climate (Stat. Indices or Stat."},
{"box":3,"line":13,"hue":"plain","text":"CFSR) with best hydrologic state (BC-ESP or Stat."},
{"box":3,"line":14,"hue":"plain","text":"IHC) through Bayesian Model Averaging (BMA)"},
{"box":3,"line":15,"hue":"plain","text":"13. Quantile Model Averaging (QMA)"}
]
},
"hconcat": [
{
 "bounds": "flush",
 "spacing": 10,
 "vconcat": [
  {
   "width": 392, "height": 209,
   "view": {"fill": "#f2f2f2", "stroke": "#555", "strokeWidth": 1.5, "cornerRadius": 26},
   "resolve": {"scale": {"y": "independent"}},
   "layer": [
    {"data": {"name": "boxtitle"}, "transform": [{"filter": "datum.box === 1"}],
     "mark": {"type": "text", "align": "left", "baseline": "middle", "font": "Lato", "fontSize": 31, "fontWeight": "bold", "color": "#111"},
     "encoding": {
      "x": {"field": "box", "type": "nominal", "scale": {"type": "point", "align": 0.0612}, "axis": null},
      "y": {"field": "tline", "type": "quantitative", "scale": {"domain": [0.128, 4.574], "reverse": true}, "axis": null},
      "text": {"field": "text"}}},
    {"data": {"name": "boxtext"}, "transform": [{"filter": "datum.box === 1"}],
     "mark": {"type": "text", "align": "left", "baseline": "middle", "font": "Lato", "fontSize": 17},
     "encoding": {
      "x": {"field": "box", "type": "nominal", "scale": {"type": "point", "align": 0.0612}, "axis": null},
      "y": {"field": "line", "type": "quantitative", "scale": {"domain": [-1.9615, 6.0769], "reverse": true}, "axis": null},
      "color": {"field": "hue", "type": "nominal", "scale": {"domain": ["plain","orange","purple"], "range": ["#1a1a1a","#f5a000","#7a35a8"]}, "legend": null},
      "text": {"field": "text"}}}
   ]
  },
  {
   "width": 392, "height": 215,
   "view": {"fill": "#f2f2f2", "stroke": "#555", "strokeWidth": 1.5, "cornerRadius": 30},
   "resolve": {"scale": {"y": "independent"}},
   "layer": [
    {"data": {"name": "boxtitle"}, "transform": [{"filter": "datum.box === 2"}],
     "mark": {"type": "text", "align": "left", "baseline": "middle", "font": "Lato", "fontSize": 31, "fontWeight": "bold", "color": "#111"},
     "encoding": {
      "x": {"field": "box", "type": "nominal", "scale": {"type": "point", "align": 0.0612}, "axis": null},
      "y": {"field": "tline", "type": "quantitative", "scale": {"domain": [0.340, 4.915], "reverse": true}, "axis": null},
      "text": {"field": "text"}}},
    {"data": {"name": "boxtext"}, "transform": [{"filter": "datum.box === 2"}],
     "mark": {"type": "text", "align": "left", "baseline": "middle", "font": "Lato", "fontSize": 17},
     "encoding": {
      "x": {"field": "box", "type": "nominal", "scale": {"type": "point", "align": 0.0612}, "axis": null},
      "y": {"field": "line", "type": "quantitative", "scale": {"domain": [-3.654, 4.615], "reverse": true}, "axis": null},
      "color": {"field": "hue", "type": "nominal", "scale": {"domain": ["plain","orange","purple"], "range": ["#1a1a1a","#f5a000","#7a35a8"]}, "legend": null},
      "text": {"field": "text"}}}
   ]
  },
  {
   "width": 392, "height": 528,
   "view": {"fill": "#f2f2f2", "stroke": "#555", "strokeWidth": 1.5, "cornerRadius": 45},
   "resolve": {"scale": {"y": "independent"}},
   "layer": [
    {"data": {"name": "boxtitle"}, "transform": [{"filter": "datum.box === 3"}],
     "mark": {"type": "text", "align": "left", "baseline": "middle", "font": "Lato", "fontSize": 31, "fontWeight": "bold", "color": "#111"},
     "encoding": {
      "x": {"field": "box", "type": "nominal", "scale": {"type": "point", "align": 0.0612}, "axis": null},
      "y": {"field": "tline", "type": "quantitative", "scale": {"domain": [0.1875, 11.1875], "reverse": true}, "axis": null},
      "text": {"field": "text"}}},
    {"data": {"name": "boxtext"}, "transform": [{"filter": "datum.box === 3"}],
     "mark": {"type": "text", "align": "left", "baseline": "middle", "font": "Lato", "fontSize": 17},
     "encoding": {
      "x": {"field": "box", "type": "nominal", "scale": {"type": "point", "align": 0.0612}, "axis": null},
      "y": {"field": "line", "type": "quantitative", "scale": {"domain": [-3.795, 16.458], "reverse": true}, "axis": null},
      "color": {"field": "hue", "type": "nominal", "scale": {"domain": ["plain","orange","purple"], "range": ["#1a1a1a","#f5a000","#7a35a8"]}, "legend": null},
      "text": {"field": "text"}}}
   ]
  }
 ]
},
{
 "bounds": "flush",
 "spacing": 14,
 "vconcat": [
  {
   "width": 720, "height": 1,
   "view": {"stroke": null},
   "data": {"values": [{"t": ""}]},
   "mark": {"type": "text", "baseline": "top", "fontSize": 1},
   "encoding": {"text": {"field": "t"}}
  },
  {
   "bounds": "flush",
   "spacing": 43,
   "vconcat": [
    {
     "width": 720, "height": 223,
     "title": {"text": "(a)", "anchor": "start", "frame": "group", "dx": -65, "offset": -44, "baseline": "middle", "fontSize": 24},
     "data": {"name": "fc"},
     "transform": [{"filter": "datum.panel === 'a'"}],
     "layer": [
      {"transform": [{"filter": "datum.method === 'ESP' && datum.month === 'Oct 1'"}],
       "mark": {"type": "rule", "strokeDash": [5, 4], "color": "#444", "strokeWidth": 1.2},
       "encoding": {"y": {"datum": 0, "type": "quantitative", "scale": {"domain": [-0.716, 0.965], "nice": false, "zero": false}, "axis": {"values": [-0.5, 0, 0.5], "format": ".1f", "title": "Correlation"}}}},
      {"mark": {"type": "rule", "strokeWidth": 2},
       "encoding": {
        "x": {"field": "month", "type": "nominal", "scale": {"domain": ["Oct 1","Nov 1","Dec 1","Jan 1","Feb 1","Mar 1","Apr 1"], "paddingInner": 0.34, "paddingOuter": 0.252, "align": 0.574}, "axis": {"title": null}},
        "xOffset": {"field": "method", "type": "nominal", "scale": {"domain": ["ESP","BC-ESP","Stat.(IHC)","Stat.(Indices)","Stat.(CFSR)","Stat.(Ind+IHC)","Stat.(CFSR+IHC)","SICER","TWS","EWE","RWE","BMA","QMA"]}},
        "color": {"field": "method", "type": "nominal", "scale": {"domain": ["ESP","BC-ESP","Stat.(IHC)","Stat.(Indices)","Stat.(CFSR)","Stat.(Ind+IHC)","Stat.(CFSR+IHC)","SICER","TWS","EWE","RWE","BMA","QMA"], "range": ["#000000","#000000","#999999","#FF8C00","#FF8C00","#FF0000","#FF0000","#8E2C9E","#0000FF","#1E7B1E","#1E7B1E","#66CC00","#66CC00"]}, "legend": null},
        "y": {"field": "lo", "type": "quantitative", "scale": {"domain": [-0.716, 0.965], "nice": false, "zero": false}, "axis": {"values": [-0.5, 0, 0.5], "format": ".1f", "title": "Correlation"}},
        "y2": {"field": "hi"}}},
      {"mark": {"type": "tick", "size": 16, "thickness": 2, "opacity": 1},
       "encoding": {
        "x": {"field": "month", "type": "nominal", "scale": {"domain": ["Oct 1","Nov 1","Dec 1","Jan 1","Feb 1","Mar 1","Apr 1"], "paddingInner": 0.34, "paddingOuter": 0.252, "align": 0.574}, "axis": {"title": null}},
        "xOffset": {"field": "method", "type": "nominal", "scale": {"domain": ["ESP","BC-ESP","Stat.(IHC)","Stat.(Indices)","Stat.(CFSR)","Stat.(Ind+IHC)","Stat.(CFSR+IHC)","SICER","TWS","EWE","RWE","BMA","QMA"]}},
        "color": {"field": "method", "type": "nominal", "scale": {"domain": ["ESP","BC-ESP","Stat.(IHC)","Stat.(Indices)","Stat.(CFSR)","Stat.(Ind+IHC)","Stat.(CFSR+IHC)","SICER","TWS","EWE","RWE","BMA","QMA"], "range": ["#000000","#000000","#999999","#FF8C00","#FF8C00","#FF0000","#FF0000","#8E2C9E","#0000FF","#1E7B1E","#1E7B1E","#66CC00","#66CC00"]}, "legend": null},
        "y": {"field": "hi", "type": "quantitative", "scale": {"domain": [-0.716, 0.965], "nice": false, "zero": false}, "axis": {"values": [-0.5, 0, 0.5], "format": ".1f", "title": "Correlation"}}}},
      {"mark": {"type": "tick", "size": 16, "thickness": 2, "opacity": 1},
       "encoding": {
        "x": {"field": "month", "type": "nominal", "scale": {"domain": ["Oct 1","Nov 1","Dec 1","Jan 1","Feb 1","Mar 1","Apr 1"], "paddingInner": 0.34, "paddingOuter": 0.252, "align": 0.574}, "axis": {"title": null}},
        "xOffset": {"field": "method", "type": "nominal", "scale": {"domain": ["ESP","BC-ESP","Stat.(IHC)","Stat.(Indices)","Stat.(CFSR)","Stat.(Ind+IHC)","Stat.(CFSR+IHC)","SICER","TWS","EWE","RWE","BMA","QMA"]}},
        "color": {"field": "method", "type": "nominal", "scale": {"domain": ["ESP","BC-ESP","Stat.(IHC)","Stat.(Indices)","Stat.(CFSR)","Stat.(Ind+IHC)","Stat.(CFSR+IHC)","SICER","TWS","EWE","RWE","BMA","QMA"], "range": ["#000000","#000000","#999999","#FF8C00","#FF8C00","#FF0000","#FF0000","#8E2C9E","#0000FF","#1E7B1E","#1E7B1E","#66CC00","#66CC00"]}, "legend": null},
        "y": {"field": "lo", "type": "quantitative", "scale": {"domain": [-0.716, 0.965], "nice": false, "zero": false}, "axis": {"values": [-0.5, 0, 0.5], "format": ".1f", "title": "Correlation"}}}},
      {"mark": {"type": "point", "filled": false, "fill": "white", "fillOpacity": 1, "size": 50, "strokeWidth": 2, "opacity": 1},
       "encoding": {
        "x": {"field": "month", "type": "nominal", "scale": {"domain": ["Oct 1","Nov 1","Dec 1","Jan 1","Feb 1","Mar 1","Apr 1"], "paddingInner": 0.34, "paddingOuter": 0.252, "align": 0.574}, "axis": {"title": null}},
        "xOffset": {"field": "method", "type": "nominal", "scale": {"domain": ["ESP","BC-ESP","Stat.(IHC)","Stat.(Indices)","Stat.(CFSR)","Stat.(Ind+IHC)","Stat.(CFSR+IHC)","SICER","TWS","EWE","RWE","BMA","QMA"]}},
        "color": {"field": "method", "type": "nominal", "scale": {"domain": ["ESP","BC-ESP","Stat.(IHC)","Stat.(Indices)","Stat.(CFSR)","Stat.(Ind+IHC)","Stat.(CFSR+IHC)","SICER","TWS","EWE","RWE","BMA","QMA"], "range": ["#000000","#000000","#999999","#FF8C00","#FF8C00","#FF0000","#FF0000","#8E2C9E","#0000FF","#1E7B1E","#1E7B1E","#66CC00","#66CC00"]}, "legend": null},
        "shape": {"field": "method", "type": "nominal", "scale": {"domain": ["ESP","BC-ESP","Stat.(IHC)","Stat.(Indices)","Stat.(CFSR)","Stat.(Ind+IHC)","Stat.(CFSR+IHC)","SICER","TWS","EWE","RWE","BMA","QMA"], "range": ["M-1,-1L1,1M-1,1L1,-1","diamond","triangle-down","circle","M-1,0L1,0M0,-1L0,1","diamond","triangle-down","M-1,-1L1,1M-1,1L1,-1","M-1,-1L1,1M-1,1L1,-1","circle","M-1,0L1,0M0,-1L0,1","triangle-down","diamond"]}, "legend": null},
        "y": {"field": "r", "type": "quantitative", "scale": {"domain": [-0.716, 0.965], "nice": false, "zero": false}, "axis": {"values": [-0.5, 0, 0.5], "format": ".1f", "title": "Correlation"}}}}
     ]
    },
    {
     "width": 720, "height": 223,
     "title": {"text": "(b)", "anchor": "start", "frame": "group", "dx": -65, "offset": -44, "baseline": "middle", "fontSize": 24},
     "data": {"name": "fc"},
     "transform": [{"filter": "datum.panel === 'b'"}],
     "layer": [
      {"transform": [{"filter": "datum.method === 'ESP' && datum.month === 'Oct 1'"}],
       "mark": {"type": "rule", "strokeDash": [5, 4], "color": "#444", "strokeWidth": 1.2},
       "encoding": {"y": {"datum": 0, "type": "quantitative", "scale": {"domain": [-0.829, 0.813], "nice": false, "zero": false}, "axis": {"values": [-0.5, 0, 0.5], "format": ".1f", "title": "Correlation"}}}},
      {"mark": {"type": "rule", "strokeWidth": 2},
       "encoding": {
        "x": {"field": "month", "type": "nominal", "scale": {"domain": ["Oct 1","Nov 1","Dec 1","Jan 1","Feb 1","Mar 1","Apr 1"], "paddingInner": 0.34, "paddingOuter": 0.252, "align": 0.574}, "axis": {"title": null}},
        "xOffset": {"field": "method", "type": "nominal", "scale": {"domain": ["ESP","BC-ESP","Stat.(IHC)","Stat.(Indices)","Stat.(CFSR)","Stat.(Ind+IHC)","Stat.(CFSR+IHC)","SICER","TWS","EWE","RWE","BMA","QMA"]}},
        "color": {"field": "method", "type": "nominal", "scale": {"domain": ["ESP","BC-ESP","Stat.(IHC)","Stat.(Indices)","Stat.(CFSR)","Stat.(Ind+IHC)","Stat.(CFSR+IHC)","SICER","TWS","EWE","RWE","BMA","QMA"], "range": ["#000000","#000000","#999999","#FF8C00","#FF8C00","#FF0000","#FF0000","#8E2C9E","#0000FF","#1E7B1E","#1E7B1E","#66CC00","#66CC00"]}, "legend": null},
        "y": {"field": "lo", "type": "quantitative", "scale": {"domain": [-0.829, 0.813], "nice": false, "zero": false}, "axis": {"values": [-0.5, 0, 0.5], "format": ".1f", "title": "Correlation"}},
        "y2": {"field": "hi"}}},
      {"mark": {"type": "tick", "size": 16, "thickness": 2, "opacity": 1},
       "encoding": {
        "x": {"field": "month", "type": "nominal", "scale": {"domain": ["Oct 1","Nov 1","Dec 1","Jan 1","Feb 1","Mar 1","Apr 1"], "paddingInner": 0.34, "paddingOuter": 0.252, "align": 0.574}, "axis": {"title": null}},
        "xOffset": {"field": "method", "type": "nominal", "scale": {"domain": ["ESP","BC-ESP","Stat.(IHC)","Stat.(Indices)","Stat.(CFSR)","Stat.(Ind+IHC)","Stat.(CFSR+IHC)","SICER","TWS","EWE","RWE","BMA","QMA"]}},
        "color": {"field": "method", "type": "nominal", "scale": {"domain": ["ESP","BC-ESP","Stat.(IHC)","Stat.(Indices)","Stat.(CFSR)","Stat.(Ind+IHC)","Stat.(CFSR+IHC)","SICER","TWS","EWE","RWE","BMA","QMA"], "range": ["#000000","#000000","#999999","#FF8C00","#FF8C00","#FF0000","#FF0000","#8E2C9E","#0000FF","#1E7B1E","#1E7B1E","#66CC00","#66CC00"]}, "legend": null},
        "y": {"field": "hi", "type": "quantitative", "scale": {"domain": [-0.829, 0.813], "nice": false, "zero": false}, "axis": {"values": [-0.5, 0, 0.5], "format": ".1f", "title": "Correlation"}}}},
      {"mark": {"type": "tick", "size": 16, "thickness": 2, "opacity": 1},
       "encoding": {
        "x": {"field": "month", "type": "nominal", "scale": {"domain": ["Oct 1","Nov 1","Dec 1","Jan 1","Feb 1","Mar 1","Apr 1"], "paddingInner": 0.34, "paddingOuter": 0.252, "align": 0.574}, "axis": {"title": null}},
        "xOffset": {"field": "method", "type": "nominal", "scale": {"domain": ["ESP","BC-ESP","Stat.(IHC)","Stat.(Indices)","Stat.(CFSR)","Stat.(Ind+IHC)","Stat.(CFSR+IHC)","SICER","TWS","EWE","RWE","BMA","QMA"]}},
        "color": {"field": "method", "type": "nominal", "scale": {"domain": ["ESP","BC-ESP","Stat.(IHC)","Stat.(Indices)","Stat.(CFSR)","Stat.(Ind+IHC)","Stat.(CFSR+IHC)","SICER","TWS","EWE","RWE","BMA","QMA"], "range": ["#000000","#000000","#999999","#FF8C00","#FF8C00","#FF0000","#FF0000","#8E2C9E","#0000FF","#1E7B1E","#1E7B1E","#66CC00","#66CC00"]}, "legend": null},
        "y": {"field": "lo", "type": "quantitative", "scale": {"domain": [-0.829, 0.813], "nice": false, "zero": false}, "axis": {"values": [-0.5, 0, 0.5], "format": ".1f", "title": "Correlation"}}}},
      {"mark": {"type": "point", "filled": false, "fill": "white", "fillOpacity": 1, "size": 50, "strokeWidth": 2, "opacity": 1},
       "encoding": {
        "x": {"field": "month", "type": "nominal", "scale": {"domain": ["Oct 1","Nov 1","Dec 1","Jan 1","Feb 1","Mar 1","Apr 1"], "paddingInner": 0.34, "paddingOuter": 0.252, "align": 0.574}, "axis": {"title": null}},
        "xOffset": {"field": "method", "type": "nominal", "scale": {"domain": ["ESP","BC-ESP","Stat.(IHC)","Stat.(Indices)","Stat.(CFSR)","Stat.(Ind+IHC)","Stat.(CFSR+IHC)","SICER","TWS","EWE","RWE","BMA","QMA"]}},
        "color": {"field": "method", "type": "nominal", "scale": {"domain": ["ESP","BC-ESP","Stat.(IHC)","Stat.(Indices)","Stat.(CFSR)","Stat.(Ind+IHC)","Stat.(CFSR+IHC)","SICER","TWS","EWE","RWE","BMA","QMA"], "range": ["#000000","#000000","#999999","#FF8C00","#FF8C00","#FF0000","#FF0000","#8E2C9E","#0000FF","#1E7B1E","#1E7B1E","#66CC00","#66CC00"]}, "legend": null},
        "shape": {"field": "method", "type": "nominal", "scale": {"domain": ["ESP","BC-ESP","Stat.(IHC)","Stat.(Indices)","Stat.(CFSR)","Stat.(Ind+IHC)","Stat.(CFSR+IHC)","SICER","TWS","EWE","RWE","BMA","QMA"], "range": ["M-1,-1L1,1M-1,1L1,-1","diamond","triangle-down","circle","M-1,0L1,0M0,-1L0,1","diamond","triangle-down","M-1,-1L1,1M-1,1L1,-1","M-1,-1L1,1M-1,1L1,-1","circle","M-1,0L1,0M0,-1L0,1","triangle-down","diamond"]}, "legend": null},
        "y": {"field": "r", "type": "quantitative", "scale": {"domain": [-0.829, 0.813], "nice": false, "zero": false}, "axis": {"values": [-0.5, 0, 0.5], "format": ".1f", "title": "Correlation"}}}}
     ]
    },
    {
     "width": 720, "height": 223,
     "title": {"text": "(c)", "anchor": "start", "frame": "group", "dx": -65, "offset": -44, "baseline": "middle", "fontSize": 24},
     "data": {"name": "fc"},
     "transform": [{"filter": "datum.panel === 'c'"}],
     "layer": [
      {"transform": [{"filter": "datum.method === 'ESP' && datum.month === 'Oct 1'"}],
       "mark": {"type": "rule", "strokeDash": [5, 4], "color": "#444", "strokeWidth": 1.2},
       "encoding": {"y": {"datum": 0, "type": "quantitative", "scale": {"domain": [-0.697, 0.977], "nice": false, "zero": false}, "axis": {"values": [-0.5, 0, 0.5], "format": ".1f", "title": "Correlation"}}}},
      {"mark": {"type": "rule", "strokeWidth": 2},
       "encoding": {
        "x": {"field": "month", "type": "nominal", "scale": {"domain": ["Oct 1","Nov 1","Dec 1","Jan 1","Feb 1","Mar 1","Apr 1"], "paddingInner": 0.34, "paddingOuter": 0.252, "align": 0.574}, "axis": {"title": null}},
        "xOffset": {"field": "method", "type": "nominal", "scale": {"domain": ["ESP","BC-ESP","Stat.(IHC)","Stat.(Indices)","Stat.(CFSR)","Stat.(Ind+IHC)","Stat.(CFSR+IHC)","SICER","TWS","EWE","RWE","BMA","QMA"]}},
        "color": {"field": "method", "type": "nominal", "scale": {"domain": ["ESP","BC-ESP","Stat.(IHC)","Stat.(Indices)","Stat.(CFSR)","Stat.(Ind+IHC)","Stat.(CFSR+IHC)","SICER","TWS","EWE","RWE","BMA","QMA"], "range": ["#000000","#000000","#999999","#FF8C00","#FF8C00","#FF0000","#FF0000","#8E2C9E","#0000FF","#1E7B1E","#1E7B1E","#66CC00","#66CC00"]}, "legend": null},
        "y": {"field": "lo", "type": "quantitative", "scale": {"domain": [-0.697, 0.977], "nice": false, "zero": false}, "axis": {"values": [-0.5, 0, 0.5], "format": ".1f", "title": "Correlation"}},
        "y2": {"field": "hi"}}},
      {"mark": {"type": "tick", "size": 16, "thickness": 2, "opacity": 1},
       "encoding": {
        "x": {"field": "month", "type": "nominal", "scale": {"domain": ["Oct 1","Nov 1","Dec 1","Jan 1","Feb 1","Mar 1","Apr 1"], "paddingInner": 0.34, "paddingOuter": 0.252, "align": 0.574}, "axis": {"title": null}},
        "xOffset": {"field": "method", "type": "nominal", "scale": {"domain": ["ESP","BC-ESP","Stat.(IHC)","Stat.(Indices)","Stat.(CFSR)","Stat.(Ind+IHC)","Stat.(CFSR+IHC)","SICER","TWS","EWE","RWE","BMA","QMA"]}},
        "color": {"field": "method", "type": "nominal", "scale": {"domain": ["ESP","BC-ESP","Stat.(IHC)","Stat.(Indices)","Stat.(CFSR)","Stat.(Ind+IHC)","Stat.(CFSR+IHC)","SICER","TWS","EWE","RWE","BMA","QMA"], "range": ["#000000","#000000","#999999","#FF8C00","#FF8C00","#FF0000","#FF0000","#8E2C9E","#0000FF","#1E7B1E","#1E7B1E","#66CC00","#66CC00"]}, "legend": null},
        "y": {"field": "hi", "type": "quantitative", "scale": {"domain": [-0.697, 0.977], "nice": false, "zero": false}, "axis": {"values": [-0.5, 0, 0.5], "format": ".1f", "title": "Correlation"}}}},
      {"mark": {"type": "tick", "size": 16, "thickness": 2, "opacity": 1},
       "encoding": {
        "x": {"field": "month", "type": "nominal", "scale": {"domain": ["Oct 1","Nov 1","Dec 1","Jan 1","Feb 1","Mar 1","Apr 1"], "paddingInner": 0.34, "paddingOuter": 0.252, "align": 0.574}, "axis": {"title": null}},
        "xOffset": {"field": "method", "type": "nominal", "scale": {"domain": ["ESP","BC-ESP","Stat.(IHC)","Stat.(Indices)","Stat.(CFSR)","Stat.(Ind+IHC)","Stat.(CFSR+IHC)","SICER","TWS","EWE","RWE","BMA","QMA"]}},
        "color": {"field": "method", "type": "nominal", "scale": {"domain": ["ESP","BC-ESP","Stat.(IHC)","Stat.(Indices)","Stat.(CFSR)","Stat.(Ind+IHC)","Stat.(CFSR+IHC)","SICER","TWS","EWE","RWE","BMA","QMA"], "range": ["#000000","#000000","#999999","#FF8C00","#FF8C00","#FF0000","#FF0000","#8E2C9E","#0000FF","#1E7B1E","#1E7B1E","#66CC00","#66CC00"]}, "legend": null},
        "y": {"field": "lo", "type": "quantitative", "scale": {"domain": [-0.697, 0.977], "nice": false, "zero": false}, "axis": {"values": [-0.5, 0, 0.5], "format": ".1f", "title": "Correlation"}}}},
      {"mark": {"type": "point", "filled": false, "fill": "white", "fillOpacity": 1, "size": 50, "strokeWidth": 2, "opacity": 1},
       "encoding": {
        "x": {"field": "month", "type": "nominal", "scale": {"domain": ["Oct 1","Nov 1","Dec 1","Jan 1","Feb 1","Mar 1","Apr 1"], "paddingInner": 0.34, "paddingOuter": 0.252, "align": 0.574}, "axis": {"title": null}},
        "xOffset": {"field": "method", "type": "nominal", "scale": {"domain": ["ESP","BC-ESP","Stat.(IHC)","Stat.(Indices)","Stat.(CFSR)","Stat.(Ind+IHC)","Stat.(CFSR+IHC)","SICER","TWS","EWE","RWE","BMA","QMA"]}},
        "color": {"field": "method", "type": "nominal", "scale": {"domain": ["ESP","BC-ESP","Stat.(IHC)","Stat.(Indices)","Stat.(CFSR)","Stat.(Ind+IHC)","Stat.(CFSR+IHC)","SICER","TWS","EWE","RWE","BMA","QMA"], "range": ["#000000","#000000","#999999","#FF8C00","#FF8C00","#FF0000","#FF0000","#8E2C9E","#0000FF","#1E7B1E","#1E7B1E","#66CC00","#66CC00"]}, "legend": null},
        "shape": {"field": "method", "type": "nominal", "scale": {"domain": ["ESP","BC-ESP","Stat.(IHC)","Stat.(Indices)","Stat.(CFSR)","Stat.(Ind+IHC)","Stat.(CFSR+IHC)","SICER","TWS","EWE","RWE","BMA","QMA"], "range": ["M-1,-1L1,1M-1,1L1,-1","diamond","triangle-down","circle","M-1,0L1,0M0,-1L0,1","diamond","triangle-down","M-1,-1L1,1M-1,1L1,-1","M-1,-1L1,1M-1,1L1,-1","circle","M-1,0L1,0M0,-1L0,1","triangle-down","diamond"]}, "legend": null},
        "y": {"field": "r", "type": "quantitative", "scale": {"domain": [-0.697, 0.977], "nice": false, "zero": false}, "axis": {"values": [-0.5, 0, 0.5], "format": ".1f", "title": "Correlation"}}}}
     ]
    },
    {
     "width": 626, "height": 150,
     "view": {"stroke": null},
     "data": {"name": "leg"},
     "layer": [
      {"mark": {"type": "point", "shape": "M-1,0L1,0", "size": 1369, "filled": false, "opacity": 1},
       "encoding": {
        "x": {"field": "family", "type": "nominal", "scale": {"type": "point", "domain": ["benchmark","climate","hybrid","weighting"], "padding": 0.065}, "axis": null},
        "y": {"field": "rank", "type": "quantitative", "scale": {"domain": [-0.7586, 4.4138], "reverse": true}, "axis": null},
        "color": {"field": "method", "type": "nominal", "scale": {"domain": ["ESP","BC-ESP","Stat.(IHC)","Stat.(Indices)","Stat.(CFSR)","Stat.(Ind+IHC)","Stat.(CFSR+IHC)","SICER","TWS","EWE","RWE","BMA","QMA"], "range": ["#000000","#000000","#999999","#FF8C00","#FF8C00","#FF0000","#FF0000","#8E2C9E","#0000FF","#1E7B1E","#1E7B1E","#66CC00","#66CC00"]}, "legend": null},
        "strokeWidth": {"field": "method", "type": "nominal", "scale": {"domain": ["ESP","BC-ESP","Stat.(IHC)","Stat.(Indices)","Stat.(CFSR)","Stat.(Ind+IHC)","Stat.(CFSR+IHC)","SICER","TWS","EWE","RWE","BMA","QMA"], "range": [3.5,3.5,3.5,2,2,2,2,2,2,2,2,2,2]}, "legend": null}}},
      {"mark": {"type": "point", "filled": false, "fill": "white", "fillOpacity": 1, "size": 90, "opacity": 1},
       "encoding": {
        "x": {"field": "family", "type": "nominal", "scale": {"type": "point", "domain": ["benchmark","climate","hybrid","weighting"], "padding": 0.065}, "axis": null},
        "y": {"field": "rank", "type": "quantitative", "scale": {"domain": [-0.7586, 4.4138], "reverse": true}, "axis": null},
        "color": {"field": "method", "type": "nominal", "scale": {"domain": ["ESP","BC-ESP","Stat.(IHC)","Stat.(Indices)","Stat.(CFSR)","Stat.(Ind+IHC)","Stat.(CFSR+IHC)","SICER","TWS","EWE","RWE","BMA","QMA"], "range": ["#000000","#000000","#999999","#FF8C00","#FF8C00","#FF0000","#FF0000","#8E2C9E","#0000FF","#1E7B1E","#1E7B1E","#66CC00","#66CC00"]}, "legend": null},
        "strokeWidth": {"field": "method", "type": "nominal", "scale": {"domain": ["ESP","BC-ESP","Stat.(IHC)","Stat.(Indices)","Stat.(CFSR)","Stat.(Ind+IHC)","Stat.(CFSR+IHC)","SICER","TWS","EWE","RWE","BMA","QMA"], "range": [3.5,3.5,3.5,2,2,2,2,2,2,2,2,2,2]}, "legend": null},
        "shape": {"field": "method", "type": "nominal", "scale": {"domain": ["ESP","BC-ESP","Stat.(IHC)","Stat.(Indices)","Stat.(CFSR)","Stat.(Ind+IHC)","Stat.(CFSR+IHC)","SICER","TWS","EWE","RWE","BMA","QMA"], "range": ["M-1,-1L1,1M-1,1L1,-1","diamond","triangle-down","circle","M-1,0L1,0M0,-1L0,1","diamond","triangle-down","M-1,-1L1,1M-1,1L1,-1","M-1,-1L1,1M-1,1L1,-1","circle","M-1,0L1,0M0,-1L0,1","triangle-down","diamond"]}, "legend": null}}},
      {"mark": {"type": "text", "align": "left", "baseline": "middle", "dx": 24, "fontSize": 19, "color": "#222", "font": "Liberation Sans"},
       "encoding": {
        "x": {"field": "family", "type": "nominal", "scale": {"type": "point", "domain": ["benchmark","climate","hybrid","weighting"], "padding": 0.065}, "axis": null},
        "y": {"field": "rank", "type": "quantitative", "scale": {"domain": [-0.7586, 4.4138], "reverse": true}, "axis": null},
        "text": {"field": "method"}}}
     ]
    }
   ]
  }
 ]
}
]
}
